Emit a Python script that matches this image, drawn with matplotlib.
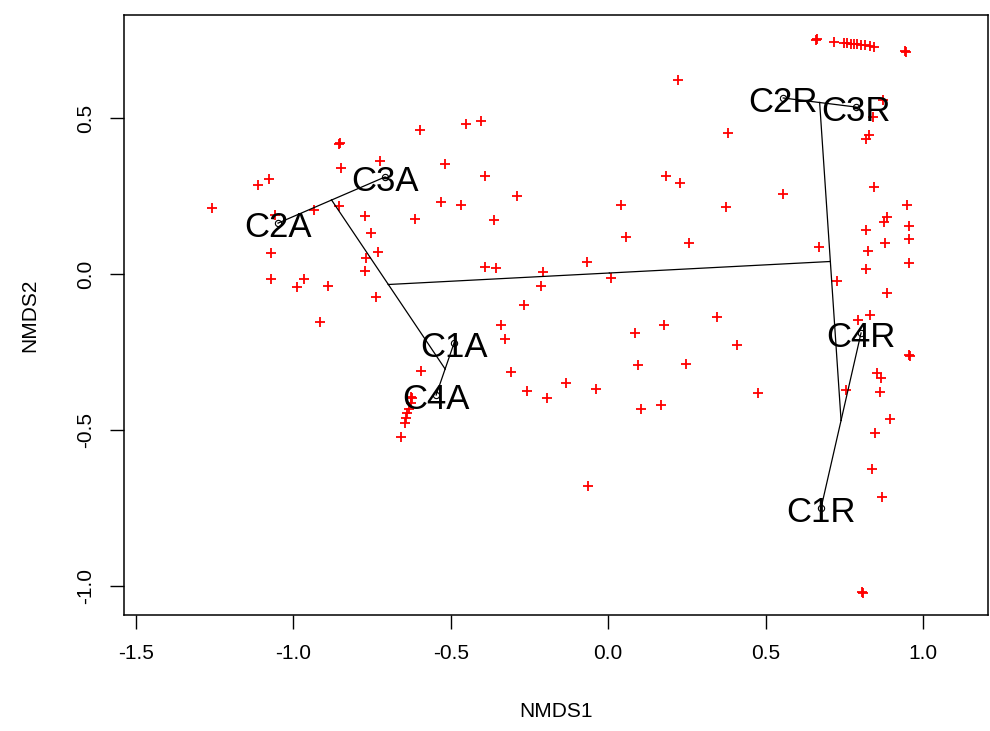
import matplotlib
matplotlib.use("Agg")
import matplotlib.pyplot as plt
import numpy as np

plt.rcParams['font.family'] = ['Liberation Sans', 'DejaVu Sans']

# Site scores (NMDS1, NMDS2)
site_x = [-0.597, -0.854, -0.850, -0.724, -0.848, -0.517, -1.076, -1.111, -1.257, -0.933,
          -0.854, -1.057, -0.771, -0.530, -0.613, -0.752, -0.730, -0.768, -1.070, -0.771,
          -1.070, -0.965, -0.987, -0.889, -0.737, -0.914,
          -0.451, -0.403, -0.390, -0.289, -0.467, -0.362, -0.390, -0.356, -0.206, -0.213,
          -0.067, 0.010, 0.041, 0.057, -0.267, -0.340, -0.327, -0.308, -0.257, -0.194,
          -0.133, -0.038, -0.063, 0.086, 0.178, 0.095, 0.248, 0.105, 0.168, 0.346,
          0.410, 0.476, 0.222, 0.381, 0.184, 0.229, 0.375, 0.257, 0.556,
          -0.594, -0.625, -0.622, -0.625, -0.632, -0.638, -0.641, -0.644, -0.657,
          0.663, 0.660, 0.717, 0.749, 0.759, 0.771, 0.781, 0.790, 0.803, 0.816, 0.832, 0.844,
          0.943, 0.946, 0.873, 0.841, 0.829, 0.819, 0.844, 0.949, 0.886, 0.876, 0.956,
          0.819, 0.956, 0.879, 0.825, 0.670, 0.819, 0.956, 0.727, 0.886, 0.832, 0.794,
          0.959, 0.956, 0.854, 0.867, 0.756, 0.863, 0.895, 0.848, 0.838, 0.870,
          0.810, 0.807]
site_y = [0.462, 0.417, 0.420, 0.362, 0.340, 0.353, 0.304, 0.285, 0.212, 0.205,
          0.218, 0.189, 0.186, 0.231, 0.176, 0.131, 0.071, 0.051, 0.067, 0.010,
          -0.016, -0.016, -0.042, -0.038, -0.074, -0.154,
          0.481, 0.490, 0.314, 0.250, 0.221, 0.173, 0.022, 0.019, 0.006, -0.038,
          0.038, -0.013, 0.221, 0.119, -0.099, -0.163, -0.208, -0.314, -0.375, -0.397,
          -0.349, -0.369, -0.679, -0.189, -0.163, -0.292, -0.288, -0.433, -0.420, -0.138,
          -0.228, -0.381, 0.622, 0.452, 0.314, 0.292, 0.215, 0.099, 0.256,
          -0.311, -0.394, -0.398, -0.413, -0.433, -0.446, -0.462, -0.478, -0.522,
          0.753, 0.750, 0.744, 0.740, 0.740, 0.737, 0.737, 0.737, 0.734, 0.734, 0.731, 0.728,
          0.715, 0.712, 0.558, 0.503, 0.446, 0.433, 0.279, 0.221, 0.183, 0.167, 0.154,
          0.141, 0.112, 0.099, 0.074, 0.087, 0.016, 0.035, -0.022, -0.061, -0.131, -0.147,
          -0.263, -0.260, -0.317, -0.333, -0.372, -0.378, -0.465, -0.510, -0.625, -0.715,
          -1.022, -1.019]

# Group centroids
groups = ['C1A', 'C2A', 'C3A', 'C4A', 'C1R', 'C2R', 'C3R', 'C4R']
cent_x = [-0.489, -1.048, -0.708, -0.546, 0.676, 0.556, 0.787, 0.803]
cent_y = [-0.221, 0.163, 0.311, -0.388, -0.750, 0.564, 0.535, -0.189]

# Cluster merge order (ordicluster): negative = centroid index, positive = previous merge
merges = [(-2, -3), (-1, -4), (1, 2), (-6, -7), (-5, -8), (4, 5), (3, 6)]

fig = plt.figure(figsize=(9.9, 7.31), dpi=100)
ax = fig.add_axes([124/990, 1 - 615/731, 864/990, 600/731])

ax.plot(site_x, site_y, linestyle='none', marker='+', color='red',
        markersize=7.5, markeredgewidth=1.3, zorder=2)

# ordicluster lines
centers = {}
def getpt(k):
    if k < 0:
        i = -k - 1
        return np.array([cent_x[i], cent_y[i]])
    return centers[k]

for m, (a, b) in enumerate(merges, start=1):
    pa = getpt(a)
    pb = getpt(b)
    c = (pa + pb) / 2.0
    centers[m] = c
    for p in (pa, pb):
        ax.plot([p[0], c[0]], [p[1], c[1]], color='black', lw=0.9, zorder=3)

ax.plot(cent_x, cent_y, linestyle='none', marker='o', markerfacecolor='none',
        markeredgecolor='black', markersize=4.5, markeredgewidth=0.8, zorder=4)
for g, x, y in zip(groups, cent_x, cent_y):
    ax.annotate(g, (x, y), xytext=(0, -3), textcoords='offset points',
                fontsize=25, ha='center', va='center', color='black', zorder=5)

ax.set_xlim(-1.537, 1.206)
ax.set_ylim(-1.093, 0.830)
ax.set_xticks([-1.5, -1.0, -0.5, 0.0, 0.5, 1.0])
ax.set_yticks([-1.0, -0.5, 0.0, 0.5])
ax.set_xticklabels(['-1.5', '-1.0', '-0.5', '0.0', '0.5', '1.0'])
ax.set_yticklabels(['-1.0', '-0.5', '0.0', '0.5'], rotation=90, va='center')
ax.tick_params(axis='both', length=10, width=1, labelsize=15, pad=11, color='black')
for s in ax.spines.values():
    s.set_linewidth(1.1)
ax.set_xlabel('NMDS1', fontsize=15, labelpad=28)
ax.set_ylabel('NMDS2', fontsize=15, labelpad=26)

fig.savefig('out.png', dpi=100)
